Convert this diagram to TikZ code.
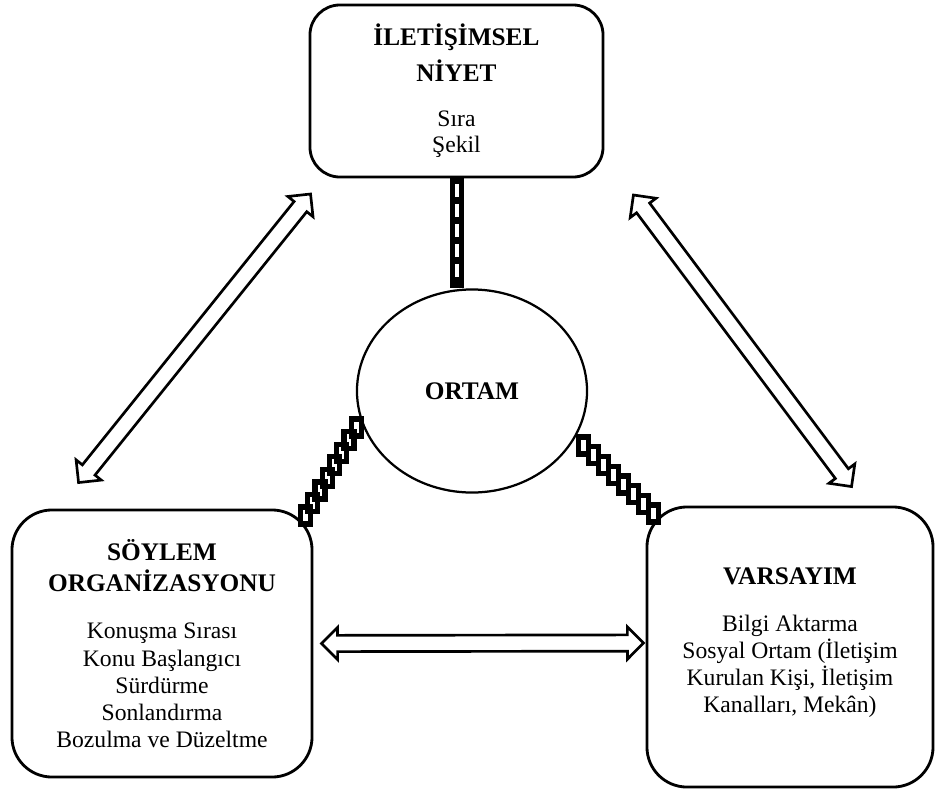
\documentclass[tikz,border=0pt]{standalone}
\usepackage{fontspec}
\setmainfont{Liberation Serif}
\usetikzlibrary{shapes.geometric,shapes.arrows,calc}
\newcommand{\parttitle}[1]{{\fontsize{18}{19.3}\selectfont\bfseries #1}}
\tikzset{
    infobox/.style = {
        align=center,
        rectangle,
        draw=black,
        line width=2pt,
        font=\fontsize{16.8}{19.3}\selectfont,
        inner sep=0mm
    },
    topbox/.style = {
        infobox,
        rounded corners=0.75cm,
        minimum width=7.325cm,
        minimum height=4.3cm
    },
    lowbox/.style = {
        infobox,
        rounded corners=1cm
    },
    ortamnode/.style = {
        ellipse,
        draw=black,
        line width=1.6pt,
        font=\fontsize{18}{19.3}\selectfont\bfseries,
        minimum width=5.75cm,
        minimum height=5.075cm
    },
    dblarrow/.style = {
        double arrow,
        draw=black,
        line width=1.9pt,
        inner sep=0pt,
        inner ysep=0.17cm,
        double arrow head extend=0.2cm,
        double arrow tip angle=90,
        double arrow head indent=0pt
    },
    linkbar/.style = {
        draw=black,
        line width=0.35cm
    },
    linkdash/.style = {
        draw=white,
        line width=0.1cm,
        dash pattern=on 0.325cm off 0.175cm,
        shorten <=0.15cm,
        shorten >=0.15cm
    },
    stairstep/.style = {
        draw=black,
        line width=3.8pt
    }
}
\begin{document}
\begin{tikzpicture}[x=0.025cm, y=-0.025cm]
    \useasboundingbox (0,0) rectangle (936,791);

    % the four parts
    \node [topbox] (niyet) at (456.5,91)
        {\parttitle{İLETİŞİMSEL}\\[6pt]\parttitle{NİYET}\\[13pt]Sıra\\[-1pt]Şekil};
    \node [ortamnode] (ortam) at (472,391) {ORTAM};
    \node [lowbox, minimum width=7.5cm, minimum height=6.675cm] (soylem) at (162,643.5)
        {\parttitle{SÖYLEM}\\[2.5pt]\parttitle{ORGANİZASYONU}\\[14.7pt]Konuşma Sırası\\Konu Başlangıcı\\Sürdürme\\Sonlandırma\\Bozulma ve Düzeltme};
    \node [lowbox, minimum width=7.15cm, minimum height=7cm] (varsayim) at (790,647)
        {\parttitle{VARSAYIM}\\[14pt]Bilgi Aktarma\\Sosyal Ortam (İletişim\\Kurulan Kişi, İletişim\\Kanalları, Mekân)\\[-10pt]};

    % ends of the hollow arrows
    \coordinate (la1) at ($(soylem.north west)+(68,-26)$);
    \coordinate (la2) at ($(niyet.west)+(2,103)$);
    \coordinate (ra1) at ($(niyet.east)+(29,104)$);
    \coordinate (ra2) at ($(varsayim.north west)+(206,-19)$);
    \coordinate (ha1) at ($(soylem.east)+(8,0)$);
    \coordinate (ha2) at ($(varsayim.west)+(-2,-4)$);

    \foreach \a/\b in {la1/la2, ra1/ra2, ha1/ha2}
        \path let \p1 = ($(\b)-(\a)$),
                  \n1 = {veclen(\x1,\y1)},
                  \n2 = {atan2(\y1,\x1)} in
            node [dblarrow, minimum height=\n1, rotate=\n2] at ($(\a)!0.5!(\b)$) {};

    % links to ORTAM
    \draw [linkbar] (niyet.south) -- (niyet.south |- ortam.north);
    \draw [linkdash] (niyet.south) -- (niyet.south |- ortam.north);

    \coordinate (l1) at ($(ortam.197)+(-6,3)$);
    \coordinate (l2) at ($(soylem.north east)+(-8,7)$);
    \coordinate (r1) at ($(ortam.-26)+(10,5)$);
    \coordinate (r2) at ($(varsayim.north west)+(8,8)$);
    \foreach \a/\b in {l1/l2, r1/r2}
        \foreach \i in {0,...,7}
            \draw [stairstep] ($(\a)!\i/7!(\b)$) +(-5,-8.5) rectangle +(5,8.5);
\end{tikzpicture}
\end{document}
